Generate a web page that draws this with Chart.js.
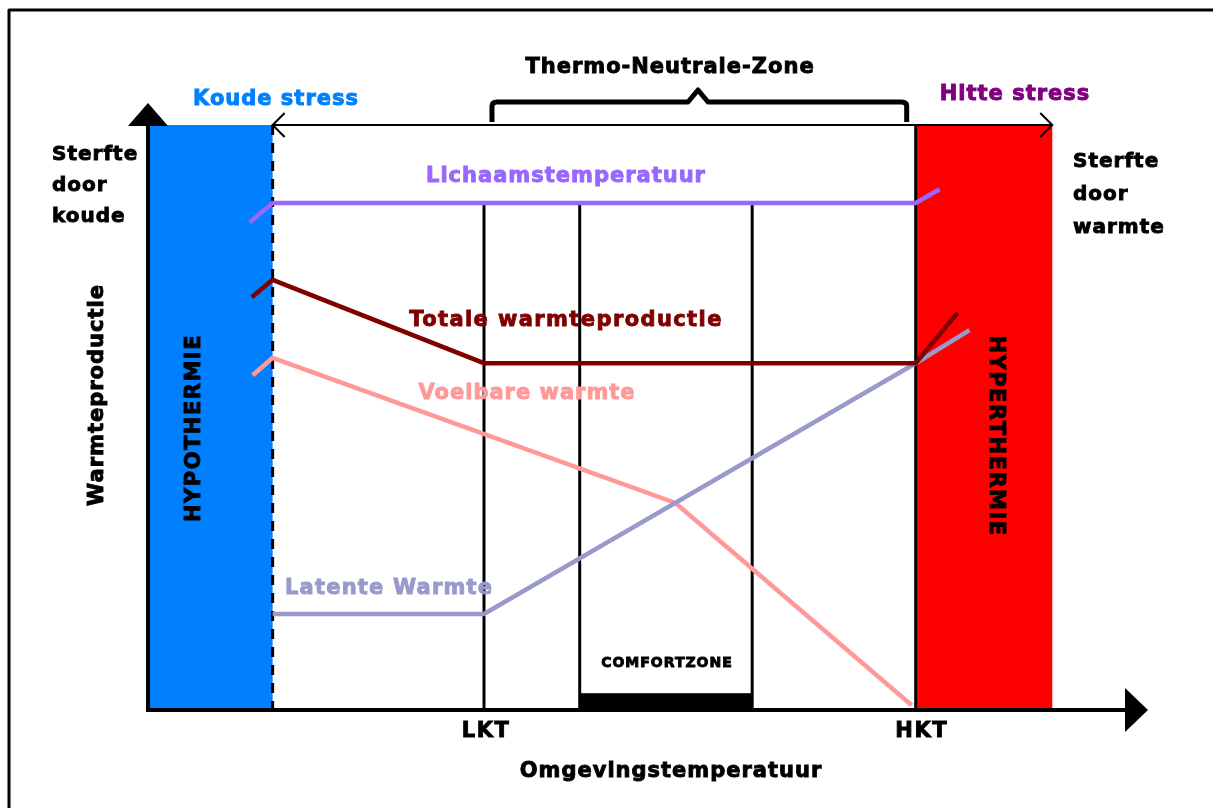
<!DOCTYPE html>
<html>
<head>
<meta charset="utf-8">
<script src="https://cdn.jsdelivr.net/npm/chart.js@4/dist/chart.umd.min.js"></script>
<style>
  html, body { margin: 0; padding: 0; background: #fff; }
  canvas { display: block; }
</style>
</head>
<body>
<canvas id="thermoChart" width="1213" height="808"></canvas>
<script>
// zone grenzen op de temperatuur-as (0..100)
const zoneNames = ['Koude grens', 'LKT', 'Comfort begin', 'Comfort eind', 'HKT', 'Hitte grens'];
const zoneX = [12.5, 33.7, 43.3, 60.6, 77.0, 90.7];
const zoneTop = 97.5;      // bovenkant van de stress-vlakken
const innerTop = 84.5;     // bovenkant van de LKT / comfort lijnen
const comfortBarTop = 2.8;

// curves (x = omgevingstemperatuur, y = warmteproductie)
const lichaamX = [10.2, 12.5, 77.0, 79.4];
const lichaamY = [81.3, 84.5, 84.5, 86.8];
const totaalX = [10.4, 12.5, 33.7, 77.0, 81.2];
const totaalY = [68.8, 71.7, 57.8, 57.8, 66.2];
const voelbaarX = [10.5, 12.5, 52.9, 76.6];
const voelbaarY = [55.8, 58.7, 34.5, 0.8];
const latentX = [12.5, 33.7, 77.0, 82.4];
const latentY = [16.0, 16.0, 57.8, 63.3];

const asLabels = ['LKT', 'HKT'];

function pts(xs, ys) { return xs.map((x, i) => ({ x: x, y: ys[i] })); }

const FONT = '"DejaVu Sans", sans-serif';

// achtergrond vlakken (blauw / rood / comfort balk)
const zonesPlugin = {
    id: 'zones',
    beforeDatasetsDraw(chart) {
        const { ctx, scales: { x, y } } = chart;
        ctx.save();
        ctx.fillStyle = '#0080ff';
        ctx.fillRect(x.getPixelForValue(0), y.getPixelForValue(zoneTop), x.getPixelForValue(zoneX[0]) - x.getPixelForValue(0), y.getPixelForValue(0) - y.getPixelForValue(zoneTop));
        ctx.fillStyle = '#ff0000';
        ctx.fillRect(x.getPixelForValue(zoneX[4]), y.getPixelForValue(zoneTop), x.getPixelForValue(zoneX[5]) - x.getPixelForValue(zoneX[4]), y.getPixelForValue(0) - y.getPixelForValue(zoneTop));
        ctx.fillStyle = '#000';
        ctx.fillRect(x.getPixelForValue(zoneX[2]), y.getPixelForValue(comfortBarTop), x.getPixelForValue(zoneX[3]) - x.getPixelForValue(zoneX[2]), y.getPixelForValue(0) - y.getPixelForValue(comfortBarTop));

        // gestippelde grens koude
        ctx.strokeStyle = '#000';
        ctx.lineWidth = 3;
        ctx.setLineDash([10, 8]);
        ctx.beginPath();
        ctx.moveTo(x.getPixelForValue(zoneX[0]), y.getPixelForValue(zoneTop));
        ctx.lineTo(x.getPixelForValue(zoneX[0]), y.getPixelForValue(0));
        ctx.stroke();
        ctx.setLineDash([]);
        ctx.restore();
    },
    afterDatasetsDraw(chart) {
        const { ctx, scales: { x, y } } = chart;
        const x0 = x.getPixelForValue(0), y0 = y.getPixelForValue(0);
        const xEnd = x.getPixelForValue(100);
        ctx.save();
        ctx.strokeStyle = '#000';
        ctx.fillStyle = '#000';

        // assen
        ctx.lineWidth = 4;
        ctx.beginPath();
        ctx.moveTo(x0, y0);
        ctx.lineTo(x0, y.getPixelForValue(zoneTop) - 2);
        ctx.moveTo(x0 - 2, y0);
        ctx.lineTo(xEnd - 20, y0);
        ctx.stroke();
        ctx.beginPath();
        ctx.moveTo(x0, y.getPixelForValue(zoneTop) - 22);
        ctx.lineTo(x0 - 20, y.getPixelForValue(zoneTop) + 1);
        ctx.lineTo(x0 + 20, y.getPixelForValue(zoneTop) + 1);
        ctx.closePath();
        ctx.fill();
        ctx.beginPath();
        ctx.moveTo(xEnd + 3, y0);
        ctx.lineTo(xEnd - 20, y0 - 22);
        ctx.lineTo(xEnd - 20, y0 + 22);
        ctx.closePath();
        ctx.fill();

        // bovenlijn met open pijlen
        const ty = y.getPixelForValue(zoneTop);
        const tl = x.getPixelForValue(zoneX[0]), tr = x.getPixelForValue(zoneX[5]);
        ctx.lineWidth = 2;
        ctx.beginPath();
        ctx.moveTo(tl, ty); ctx.lineTo(tr, ty);
        ctx.moveTo(tl + 12, ty - 12); ctx.lineTo(tl, ty); ctx.lineTo(tl + 12, ty + 12);
        ctx.moveTo(tr - 12, ty - 12); ctx.lineTo(tr, ty); ctx.lineTo(tr - 12, ty + 12);
        ctx.stroke();

        // accolade thermo-neutrale zone
        const bl = x.getPixelForValue(zoneX[1]) + 8, br = x.getPixelForValue(zoneX[4]) - 9;
        const bm = 698;
        ctx.lineWidth = 5;
        ctx.lineJoin = 'round';
        ctx.beginPath();
        ctx.moveTo(bl, ty - 3);
        ctx.lineTo(bl, ty - 19);
        ctx.quadraticCurveTo(bl, ty - 23, bl + 5, ty - 23);
        ctx.lineTo(bm - 10, ty - 23);
        ctx.lineTo(bm, ty - 35);
        ctx.lineTo(bm + 10, ty - 23);
        ctx.lineTo(br - 5, ty - 23);
        ctx.quadraticCurveTo(br, ty - 23, br, ty - 19);
        ctx.lineTo(br, ty - 3);
        ctx.stroke();

        // kader
        ctx.lineWidth = 3;
        ctx.beginPath();
        ctx.moveTo(9, 808); ctx.lineTo(9, 10); ctx.lineTo(1213, 10);
        ctx.stroke();

        // teksten (met dunne omlijning voor een zwaardere letter)
        const txt = (s, px, py, color, size, align, sp) => {
            ctx.fillStyle = color;
            ctx.strokeStyle = color;
            ctx.lineWidth = 0.9;
            ctx.lineJoin = 'miter';
            ctx.font = 'bold ' + size + 'px ' + FONT;
            ctx.letterSpacing = (sp === undefined ? 1 : sp) + 'px';
            ctx.textAlign = align || 'center';
            ctx.textBaseline = 'middle';
            ctx.fillText(s, px, py);
            ctx.strokeText(s, px, py);
        };
        txt('Koude stress', 276, 100, '#0080ff', 21);
        txt('Thermo-Neutrale-Zone', 670, 68, '#000', 21);
        txt('Hitte stress', 1015, 95, '#800080', 21);
        ['Sterfte', 'door', 'koude'].forEach((s, i) => txt(s, 52, 155 + i * 31, '#000', 20, 'left'));
        ['Sterfte', 'door', 'warmte'].forEach((s, i) => txt(s, 1073, 162 + i * 33, '#000', 20, 'left'));
        txt('Lichaamstemperatuur', 566, 177, '#9966ff', 21);
        txt('Totale warmteproductie', 566, 321, '#800000', 21, 'center', 1.4);
        txt('Voelbare warmte', 527, 394, '#ff9999', 21);
        txt('Latente Warmte', 285, 589, '#9999cc', 21, 'left', 1.2);
        txt('COMFORTZONE', 667, 663, '#000', 14);
        txt(asLabels[0], x.getPixelForValue(zoneX[1]) + 2, 732, '#000', 21, 'center', 1.5);
        txt(asLabels[1], x.getPixelForValue(zoneX[4]) + 6, 732, '#000', 21, 'center', 1.5);
        txt('Omgevingstemperatuur', 671, 772, '#000', 21);

        const rot = (s, px, py, ang, size, sp) => {
            ctx.save();
            ctx.translate(px, py);
            ctx.rotate(ang);
            txt(s, 0, 0, '#000', size, 'center', sp);
            ctx.restore();
        };
        rot('Warmteproductie', 98, 395, -Math.PI / 2, 21, 1);
        rot('HYPOTHERMIE', 195, 428, -Math.PI / 2, 21, 1.5);
        rot('HYPERTHERMIE', 995, 436, Math.PI / 2, 21, 1.5);
        ctx.restore();
    }
};

const vline = (xv, top) => ({
    data: [{ x: xv, y: 0 }, { x: xv, y: top }],
    borderColor: '#000', borderWidth: 3, pointRadius: 0, order: 5
});

new Chart(document.getElementById('thermoChart'), {
    type: 'line',
    data: {
        datasets: [
            { label: 'Lichaamstemperatuur', data: pts(lichaamX, lichaamY), borderColor: '#9966ff', borderWidth: 4.5, pointRadius: 0, order: 1 },
            { label: 'Totale warmteproductie', data: pts(totaalX, totaalY), borderColor: '#800000', borderWidth: 4.5, pointRadius: 0, order: 1 },
            { label: 'Voelbare warmte', data: pts(voelbaarX, voelbaarY), borderColor: '#ff9999', borderWidth: 4.5, pointRadius: 0, order: 2 },
            { label: 'Latente Warmte', data: pts(latentX, latentY), borderColor: '#9999cc', borderWidth: 4.5, pointRadius: 0, order: 1 },
            vline(zoneX[1], innerTop),
            vline(zoneX[2], innerTop),
            vline(zoneX[3], innerTop),
            vline(zoneX[4], zoneTop)
        ]
    },
    options: {
        responsive: false,
        animation: false,
        layout: { padding: { left: 148, right: 68, top: 110, bottom: 98 } },
        scales: {
            x: { type: 'linear', min: 0, max: 100, display: false },
            y: { type: 'linear', min: 0, max: 100, display: false }
        },
        plugins: { legend: { display: false }, tooltip: { enabled: false } }
    },
    plugins: [zonesPlugin]
});
</script>
</body>
</html>
